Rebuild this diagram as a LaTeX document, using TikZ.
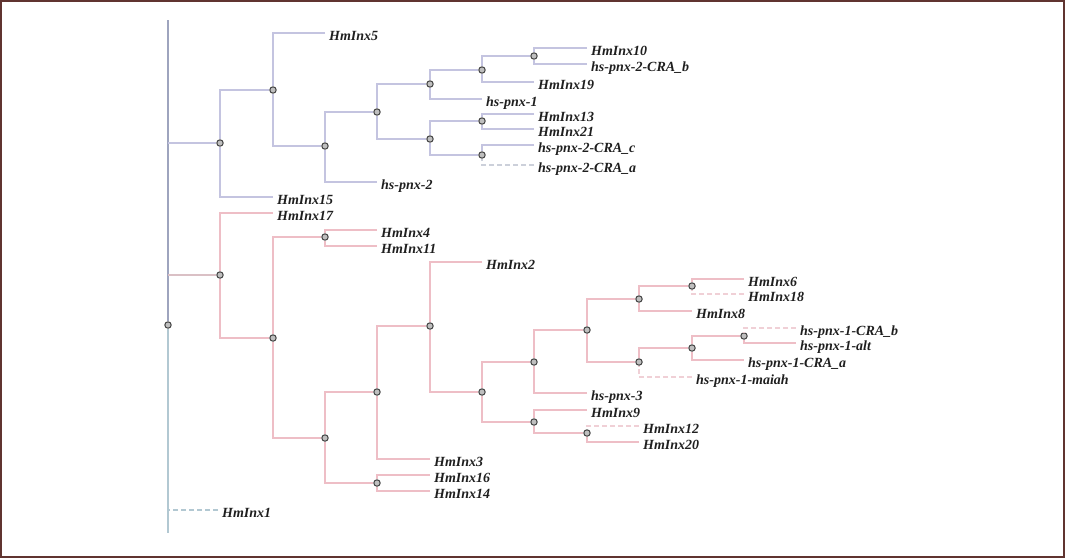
\documentclass[tikz,border=0pt]{standalone}
\usepackage{fontspec}
\setmainfont{Liberation Serif}
\usepackage{tikz}
\usepackage{xcolor}
\usetikzlibrary{positioning, arrows.meta}
\definecolor{bluebr}{RGB}{196,196,224}
\definecolor{bluedash}{RGB}{204,208,218}
\definecolor{redbr}{RGB}{238,190,198}
\definecolor{reddash}{RGB}{240,208,214}
\definecolor{trunkc}{RGB}{158,164,190}
\definecolor{trunkl}{RGB}{178,200,210}
\definecolor{framec}{RGB}{96,52,48}

\begin{document}
\begin{tikzpicture}[x=1pt,y=-1pt,
                  inner/.style={circle,draw=black!75,fill=black!25,line width=1pt,inner sep=0pt,
                    minimum size=6.4pt},
                  leaf/.style={anchor=west,inner xsep=4pt,inner ysep=0pt,text height=15pt,text depth=0pt,
                    font=\fontsize{14}{16}\selectfont\bfseries\itshape,text=black!88},
                  elb/.style={to path={(\tikztostart) -| (\tikztotarget)}},
                  blu/.style={elb,draw=bluebr,line width=1.1pt},
                  bludash/.style={elb,draw=bluedash,line width=1.1pt,dash pattern=on 5pt off 3pt},
                  red/.style={elb,draw=redbr,line width=1.1pt},
                  reddash/.style={elb,draw=reddash,line width=1.1pt,dash pattern=on 5pt off 3pt}
                  ]
                  \useasboundingbox (0,0) rectangle (1065,558);
                  \draw[framec,line width=2pt] (1,1) rectangle (1064,557);
                  % trunk
                  \coordinate (top) at (168,20);
                  \coordinate (bottom) at (168,533);
                  \node[inner] (root) at (168,325) {};
                  \draw[trunkc,line width=1.8pt] (top) -- (root);
                  \draw[trunkl,line width=1.8pt] (root) -- (bottom);
                  \node[inner] (A) at (220,143) {};
                  \node[inner] (B) at (220,275) {};
                  \draw[bluebr,line width=1.1pt] (A) -- (A -| root);
                  \draw[reddash!80!gray,line width=1.1pt] (B) -- (B -| root);
                  \node[leaf] (hmInx1) at (218,510) {HmInx1};
                  \draw[trunkl,line width=1.1pt,dash pattern=on 5pt off 3pt] (hmInx1) -- (hmInx1 -| root);
                  % upper clade
                  \node[inner] (C) at (273,90) {} edge [blu] (A);
                  \node[leaf] (hmInx15) at (273,197) {HmInx15} edge [blu] (A);
                  \node[leaf] (hmInx5) at (325,33) {HmInx5} edge [blu] (C);
                  \node[inner] (D) at (325,146) {} edge [blu] (C);
                  \node[inner] (E) at (377,112) {} edge [blu] (D);
                  \node[leaf] (pnx2) at (377,182) {hs-pnx-2} edge [blu] (D);
                  \node[inner] (F) at (430,84) {} edge [blu] (E);
                  \node[inner] (G) at (430,139) {} edge [blu] (E);
                  \node[inner] (H) at (482,70) {} edge [blu] (F);
                  \node[leaf] (pnx1) at (482,99) {hs-pnx-1} edge [blu] (F);
                  \node[inner] (I) at (534,56) {} edge [blu] (H);
                  \node[leaf] (hmInx19) at (534,82) {HmInx19} edge [blu] (H);
                  \node[leaf] (hmInx10) at (587,48) {HmInx10} edge [blu] (I);
                  \node[leaf] (craB2) at (587,64) {hs-pnx-2-CRA\_b} edge [blu] (I);
                  \node[inner] (J) at (482,121) {} edge [blu] (G);
                  \node[inner] (K) at (482,155) {} edge [blu] (G);
                  \node[leaf] (hmInx13) at (534,114) {HmInx13} edge [blu] (J);
                  \node[leaf] (hmInx21) at (534,129) {HmInx21} edge [blu] (J);
                  \node[leaf] (craC2) at (534,145) {hs-pnx-2-CRA\_c} edge [blu] (K);
                  \node[leaf] (craA2) at (534,165) {hs-pnx-2-CRA\_a} edge [bludash] (K);
                  % lower clade
                  \node[leaf] (hmInx17) at (273,213) {HmInx17} edge [red] (B);
                  \node[inner] (L) at (273,338) {} edge [red] (B);
                  \node[inner] (M) at (325,237) {} edge [red] (L);
                  \node[inner] (N) at (325,438) {} edge [red] (L);
                  \node[leaf] (hmInx4) at (377,230) {HmInx4} edge [red] (M);
                  \node[leaf] (hmInx11) at (377,246) {HmInx11} edge [red] (M);
                  \node[inner] (O) at (377,392) {} edge [red] (N);
                  \node[inner] (P) at (377,483) {} edge [red] (N);
                  \node[leaf] (hmInx16) at (430,475) {HmInx16} edge [red] (P);
                  \node[leaf] (hmInx14) at (430,491) {HmInx14} edge [red] (P);
                  \node[inner] (Q) at (430,326) {} edge [red] (O);
                  \node[leaf] (hmInx3) at (430,459) {HmInx3} edge [red] (O);
                  \node[leaf] (hmInx2) at (482,262) {HmInx2} edge [red] (Q);
                  \node[inner] (R) at (482,392) {} edge [red] (Q);
                  \node[inner] (S) at (534,362) {} edge [red] (R);
                  \node[inner] (T) at (534,422) {} edge [red] (R);
                  \node[inner] (U) at (587,330) {} edge [red] (S);
                  \node[leaf] (pnx3) at (587,393) {hs-pnx-3} edge [red] (S);
                  \node[leaf] (hmInx9) at (587,410) {HmInx9} edge [red] (T);
                  \node[inner] (V) at (587,433) {} edge [red] (T);
                  \node[leaf] (hmInx12) at (639,426) {HmInx12} edge [reddash] (V);
                  \node[leaf] (hmInx20) at (639,442) {HmInx20} edge [red] (V);
                  \node[inner] (W) at (639,299) {} edge [red] (U);
                  \node[inner] (X) at (639,362) {} edge [red] (U);
                  \node[inner] (Y) at (692,286) {} edge [red] (W);
                  \node[leaf] (hmInx8) at (692,311) {HmInx8} edge [red] (W);
                  \node[leaf] (hmInx6) at (744,279) {HmInx6} edge [red] (Y);
                  \node[leaf] (hmInx18) at (744,294) {HmInx18} edge [reddash] (Y);
                  \node[inner] (Z) at (692,348) {} edge [red] (X);
                  \node[leaf] (maiah) at (692,377) {hs-pnx-1-maiah} edge [reddash] (X);
                  \node[inner] (AA) at (744,336) {} edge [red] (Z);
                  \node[leaf] (craA1) at (744,360) {hs-pnx-1-CRA\_a} edge [red] (Z);
                  \node[leaf] (craB1) at (796,328) {hs-pnx-1-CRA\_b} edge [reddash] (AA);
                  \node[leaf] (alt1) at (796,343) {hs-pnx-1-alt} edge [red] (AA);
                \end{tikzpicture}
\end{document}
